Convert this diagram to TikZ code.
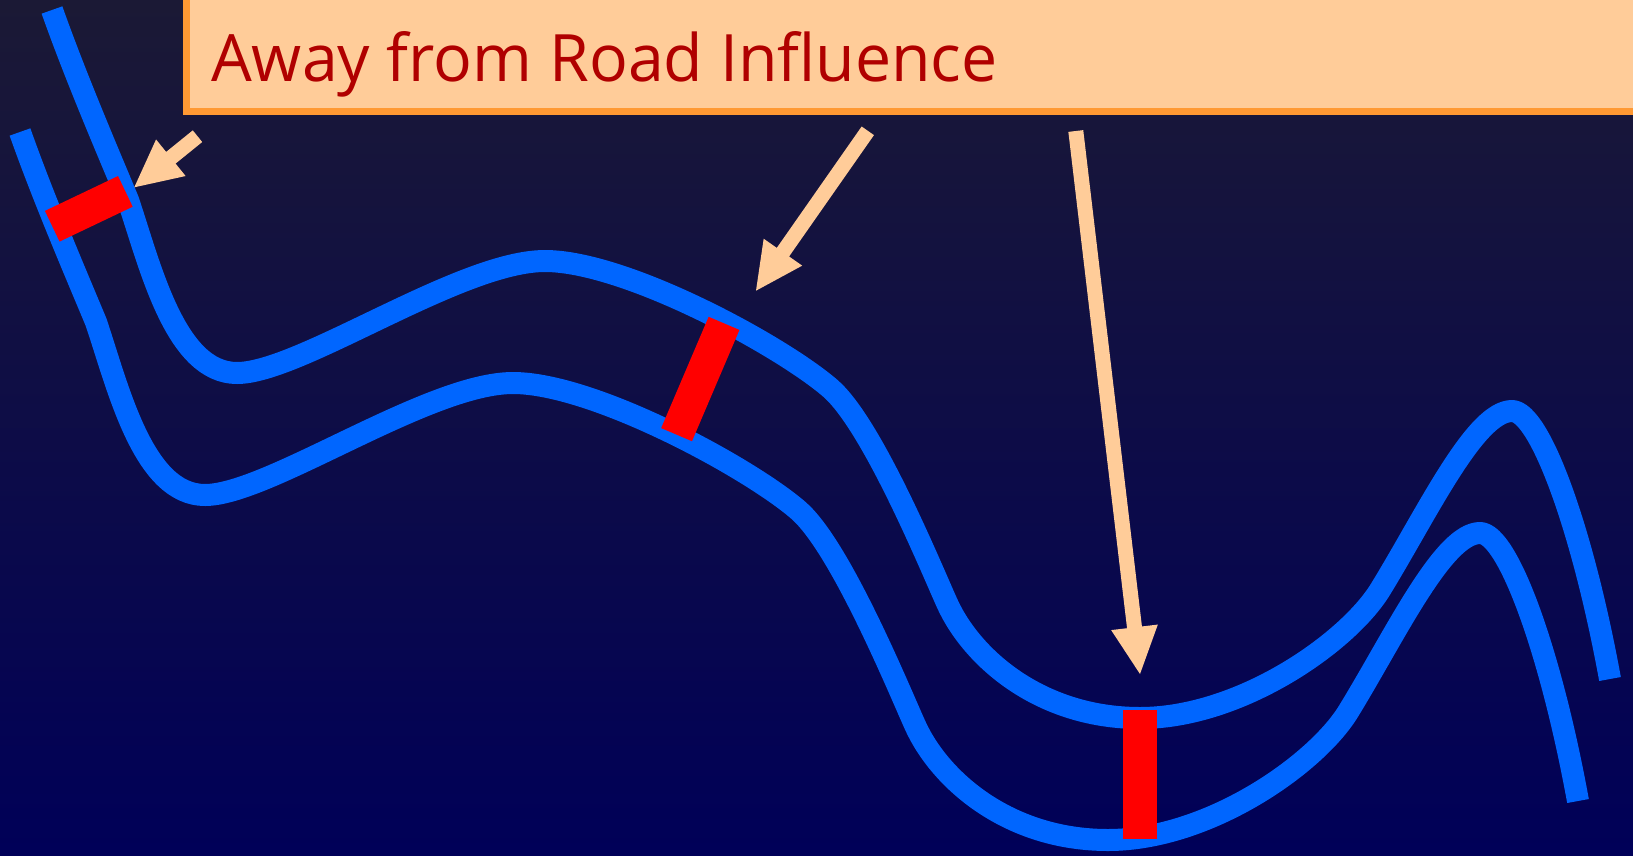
\documentclass[tikz,border=0pt]{standalone}
\usepackage{fontspec}
\usepackage{graphicx}
\setmainfont{Open Sans}
\usetikzlibrary{calc}
\definecolor{bgtop}{HTML}{1B1935}
\definecolor{bgbot}{HTML}{000058}
\definecolor{roadblue}{HTML}{0066FF}
\definecolor{peach}{HTML}{FFCC99}
\definecolor{boxorange}{HTML}{FF9933}
\definecolor{titlered}{HTML}{B00000}
\newcommand\fatarrow[2]{%
  \coordinate (#1-b) at ($(#2)!47pt!(#1)$);
  \fill[peach] ($(#1)!7.5pt!90:(#2)$) -- ($(#1-b)!7.5pt!90:(#2)$) -- ($(#1-b)!23.5pt!90:(#2)$) -- (#2)
    -- ($(#1-b)!23.5pt!-90:(#2)$) -- ($(#1-b)!7.5pt!-90:(#2)$) -- ($(#1)!7.5pt!-90:(#2)$) -- cycle;}
\begin{document}
\begin{tikzpicture}[x=1pt,y=-1pt,
  road/.style={line width=22pt, draw=roadblue, line cap=butt, line join=round},
  marker/.style={fill=red, inner sep=0pt, draw=none}]
\path[use as bounding box] (0,0) rectangle (1633,855);
\clip (0,0) rectangle (1633,855);
\shade[top color=bgtop, bottom color=bgbot] (0,0) rectangle (1633,855);
% title box
\draw[boxorange, fill=peach, line width=7.5pt] (186.5,-20) rectangle (1660,111.25);
\node[anchor=base west, inner sep=0pt, text=titlered] (title) at (211,81.7)
  {\resizebox{786pt}{50pt}{Away from Road Influence}};
% roads
\foreach \s in {0,1}{
  \draw[road, shift={(-32*\s,122*\s)}]
    (52,10) .. controls (75,75) and (105,145) .. (128,200)
    .. controls (150,265) and (175,373) .. (237,373)
    .. controls (300,373) and (460,261) .. (545,261)
    .. controls (625,261) and (780,345) .. (830,388)
    .. controls (872,424) and (930.6,566.6) .. (947,603)
    .. controls (971.6,657.6) and (1040,718) .. (1140,718)
    .. controls (1240,718) and (1347,643) .. (1380,590)
    .. controls (1427,513.5) and (1475,411) .. (1512,411)
    .. controls (1540,411) and (1583,531) .. (1610,679);
}
% markers
\node[marker, minimum width=81pt, minimum height=34pt, rotate=25.5] (m1) at (88.8,208.8) {};
\node[marker, minimum width=121pt, minimum height=33.5pt, rotate=66.9] (m2) at (700.3,379) {};
\node[marker, minimum width=34pt, minimum height=129pt] (m3) at (1140.3,774.7) {};
% arrows
\coordinate (a1t) at (197.5,136.2); \coordinate (a1h) at (134.3,187.3);
\coordinate (a2t) at (867.8,130.8); \coordinate (a2h) at (756,290.7);
\coordinate (a3t) at (1075.8,131);  \coordinate (a3h) at (1140,674);
\fatarrow{a1t}{a1h}
\fatarrow{a2t}{a2h}
\fatarrow{a3t}{a3h}
\end{tikzpicture}
\end{document}
